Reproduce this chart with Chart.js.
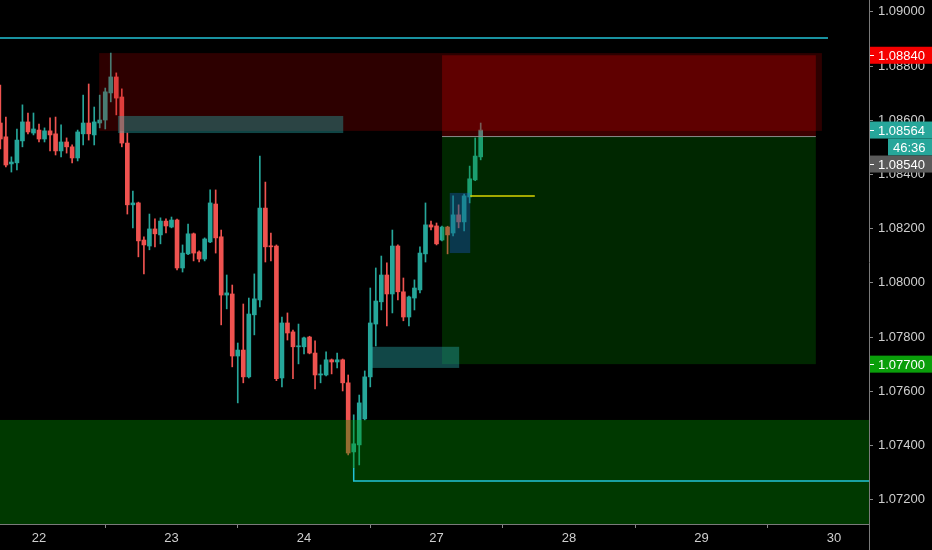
<!DOCTYPE html>
<html>
<head>
<meta charset="utf-8">
<title>EURUSD 1H</title>
<script src="https://cdn.jsdelivr.net/npm/chart.js@4.4.1/dist/chart.umd.min.js"></script>
<style>
  html, body { margin: 0; padding: 0; background: #000; }
  #wrap { width: 932px; height: 550px; position: relative; }
</style>
</head>
<body>
<div id="wrap"><canvas id="chart"></canvas></div>
<script>
// hourly bars, the first one sits 7 hours before the "22" tick
const firstBar = -7;

const opens = [
  1.08590, 1.08539, 1.08439, 1.08443, 1.08524, 1.08594, 1.08553,
  1.08564, 1.08531, 1.08561, 1.08550, 1.08487, 1.08520, 1.08502, 1.08461, 1.08550, 1.08590,
  1.08546, 1.08590, 1.08601, 1.08701, 1.08760, 1.08686, 1.08516, 1.08288, 1.08295, 1.08158,
  1.08136, 1.08199, 1.08177, 1.08228, 1.08206, 1.08232, 1.08055, 1.08107, 1.08181, 1.08114,
  1.08088, 1.08151, 1.08291, 1.08170, 1.07955, 1.07959, 1.07730, 1.07752, 1.07653, 1.07882,
  1.07937, 1.08276, 1.08136, 1.08136, 1.07649, 1.07852, 1.07819, 1.07764, 1.07764, 1.07800,
  1.07741, 1.07660, 1.07660, 1.07716, 1.07708, 1.07716, 1.07631, 1.07376, 1.07402, 1.07498,
  1.07653, 1.07848, 1.07930, 1.08029, 1.07959, 1.08136, 1.07967, 1.07874, 1.07944, 1.07974,
  1.08107, 1.08214, 1.08210, 1.08158, 1.08206, 1.08184, 1.08251, 1.08225, 1.08317, 1.08380,
  1.08465
];
const highs = [
  1.08730, 1.08612, 1.08465, 1.08568, 1.08657, 1.08627, 1.08627,
  1.08586, 1.08572, 1.08609, 1.08612, 1.08583, 1.08535, 1.08509, 1.08564, 1.08693, 1.08734,
  1.08649, 1.08693, 1.08719, 1.08848, 1.08775, 1.08716, 1.08553, 1.08339, 1.08298, 1.08170,
  1.08254, 1.08236, 1.08240, 1.08236, 1.08243, 1.08235, 1.08140, 1.08217, 1.08184, 1.08118,
  1.08166, 1.08343, 1.08343, 1.08195, 1.08029, 1.07992, 1.07778, 1.07922, 1.07944, 1.08033,
  1.08468, 1.08372, 1.08184, 1.08140, 1.07874, 1.07889, 1.07826, 1.07848, 1.07800, 1.07803,
  1.07786, 1.07697, 1.07745, 1.07719, 1.07741, 1.07719, 1.07660, 1.07513, 1.07586, 1.07675,
  1.07981, 1.08055, 1.08099, 1.08074, 1.08195, 1.08140, 1.08018, 1.07951, 1.08011, 1.08133,
  1.08295, 1.08228, 1.08221, 1.08210, 1.08209, 1.08321, 1.08288, 1.08328, 1.08431, 1.08535,
  1.08590
];
const lows = [
  1.08494, 1.08428, 1.08409, 1.08417, 1.08502, 1.08550, 1.08546,
  1.08520, 1.08520, 1.08487, 1.08472, 1.08465, 1.08479, 1.08443, 1.08450, 1.08509, 1.08527,
  1.08509, 1.08572, 1.08568, 1.08668, 1.08620, 1.08502, 1.08254, 1.08203, 1.08096, 1.08033,
  1.08122, 1.08133, 1.08144, 1.08184, 1.08203, 1.08048, 1.08040, 1.08104, 1.08081, 1.08077,
  1.08081, 1.08148, 1.08110, 1.07845, 1.07904, 1.07690, 1.07557, 1.07631, 1.07649, 1.07808,
  1.07911, 1.08077, 1.08081, 1.07639, 1.07616, 1.07789, 1.07646, 1.07701, 1.07738, 1.07738,
  1.07609, 1.07631, 1.07657, 1.07664, 1.07686, 1.07601, 1.07365, 1.07317, 1.07328, 1.07494,
  1.07616, 1.07767, 1.07900, 1.07841, 1.07889, 1.07937, 1.07860, 1.07841, 1.07900, 1.07963,
  1.08077, 1.08195, 1.08140, 1.08155, 1.08107, 1.08173, 1.08203, 1.08192, 1.08295, 1.08377,
  1.08454
];
const closes = [
  1.08531, 1.08435, 1.08446, 1.08527, 1.08594, 1.08557, 1.08568,
  1.08531, 1.08561, 1.08546, 1.08487, 1.08520, 1.08502, 1.08461, 1.08557, 1.08590, 1.08550,
  1.08594, 1.08601, 1.08705, 1.08760, 1.08682, 1.08516, 1.08288, 1.08295, 1.08155, 1.08140,
  1.08199, 1.08181, 1.08228, 1.08210, 1.08232, 1.08055, 1.08110, 1.08181, 1.08110, 1.08088,
  1.08162, 1.08295, 1.08166, 1.07955, 1.07963, 1.07730, 1.07752, 1.07653, 1.07885, 1.07941,
  1.08276, 1.08133, 1.08133, 1.07646, 1.07852, 1.07815, 1.07764, 1.07767, 1.07797, 1.07741,
  1.07660, 1.07664, 1.07716, 1.07708, 1.07716, 1.07631, 1.07372, 1.07406, 1.07557, 1.07653,
  1.07852, 1.07933, 1.08029, 1.07959, 1.08136, 1.07967, 1.07874, 1.07948, 1.07981, 1.08110,
  1.08214, 1.08206, 1.08144, 1.08206, 1.08177, 1.08251, 1.08225, 1.08321, 1.08384, 1.08468,
  1.08564
];

const dayTicks = [0, 24, 48, 72, 96, 120, 144];
const dayLabels = ['22', '23', '24', '27', '28', '29', '30'];
const priceTicks = [1.072, 1.074, 1.076, 1.078, 1.080, 1.082, 1.084, 1.086, 1.088, 1.090];

// drawings, in bar index / price units
const boxes = [
  { from: 10.9, to: 141.8, top: 1.08848, bottom: 1.08561, color: 'rgba(180,0,0,0.25)' },
  { from: 14.3, to: 55.1, top: 1.08616, bottom: 1.08553, color: 'rgba(40,170,170,0.4)' },
  { from: 73.0, to: 140.7, top: 1.08840, bottom: 1.08540, color: 'rgba(255,0,0,0.24)' },
  { from: 73.0, to: 140.7, top: 1.08540, bottom: 1.07700, color: 'rgba(0,140,0,0.28)' },
  { from: 60.3, to: 76.1, top: 1.07764, bottom: 1.07686, color: 'rgba(40,170,170,0.42)' },
  { from: 74.4, to: 78.1, top: 1.08332, bottom: 1.08110, color: 'rgba(30,90,220,0.35)' },
  { from: -8, to: 152, top: 1.07494, bottom: 1.0700, color: 'rgba(0,150,0,0.38)' }
];
const lines = [
  { pts: [[-8, 1.08904], [142.9, 1.08904]], color: '#22c3d6', width: 1.5 },
  { pts: [[73.0, 1.08540], [140.7, 1.08540]], color: '#8a8a8a', width: 1 },
  { pts: [[78.1, 1.08321], [89.8, 1.08321]], color: '#d8d400', width: 1.5 },
  { pts: [[57, 1.07317], [57, 1.07269], [152, 1.07269]], color: '#22c3d6', width: 1.5 }
];
const priceTags = [
  { value: 1.08840, text: '1.08840', bg: '#f50000' },
  { value: 1.08564, text: '1.08564', bg: '#26a69a', extra: '46:36' },
  { value: 1.08540, text: '1.08540', bg: '#5a5a5a' },
  { value: 1.07700, text: '1.07700', bg: '#0a9e0a' }
];

const FONT = 'Liberation Sans';
const bars = opens.map((o, i) => i + firstBar);
const colors = opens.map((o, i) => closes[i] >= o ? '#26a69a' : '#ef5350');

const overlay = {
  id: 'overlay',
  afterDatasetsDraw(chart) {
    const { ctx, chartArea: a, scales: { x, y } } = chart;
    ctx.save();
    ctx.beginPath();
    ctx.rect(a.left, a.top, a.right - a.left, a.bottom - a.top);
    ctx.clip();
    boxes.forEach(b => {
      const x0 = x.getPixelForValue(b.from), x1 = x.getPixelForValue(b.to);
      const y0 = y.getPixelForValue(b.top), y1 = y.getPixelForValue(b.bottom);
      ctx.fillStyle = b.color;
      ctx.fillRect(x0, y0, x1 - x0, y1 - y0);
    });
    lines.forEach(l => {
      ctx.beginPath();
      l.pts.forEach((p, i) => {
        const px = x.getPixelForValue(p[0]), py = y.getPixelForValue(p[1]);
        if (i === 0) ctx.moveTo(px, py); else ctx.lineTo(px, py);
      });
      ctx.strokeStyle = l.color;
      ctx.lineWidth = l.width;
      ctx.stroke();
    });
    ctx.restore();
  },
  afterDraw(chart) {
    const { ctx, chartArea: a, scales: { y } } = chart;
    const h = 17;
    ctx.save();
    // axis border runs on down to the bottom edge
    ctx.strokeStyle = '#7a7a7a';
    ctx.lineWidth = 1;
    ctx.beginPath();
    ctx.moveTo(a.right + 0.5, a.bottom);
    ctx.lineTo(a.right + 0.5, chart.height);
    ctx.stroke();

    ctx.font = '13px "' + FONT + '"';
    ctx.textBaseline = 'middle';
    let prevBottom = -Infinity;
    const placed = priceTags.map(t => Object.assign({}, t, { cy: y.getPixelForValue(t.value) }))
      .sort((p, q) => p.cy - q.cy);
    placed.forEach(t => {
      const cy = Math.max(t.cy, prevBottom + h / 2);
      ctx.fillStyle = t.bg;
      ctx.fillRect(a.right + 1, cy - h / 2, chart.width - a.right, h);
      ctx.fillStyle = '#fff';
      ctx.fillRect(a.right + 1, Math.round(cy), 4, 1);
      ctx.fillText(t.text, a.right + 9, cy + 1);
      prevBottom = cy + h / 2;
      if (t.extra) {
        const cy2 = prevBottom + h / 2;
        ctx.fillStyle = t.bg;
        ctx.fillRect(a.right + 19, cy2 - h / 2, chart.width - a.right - 19, h);
        ctx.fillStyle = '#fff';
        ctx.fillText(t.extra, a.right + 24, cy2 + 1);
        prevBottom = cy2 + h / 2;
      }
    });
    ctx.restore();
  }
};

new Chart(document.getElementById('chart'), {
  type: 'bar',
  data: {
    datasets: [
      {
        data: bars.map((b, i) => ({ x: b, y: [lows[i], highs[i]] })),
        backgroundColor: colors,
        barThickness: 1,
        grouped: false
      },
      {
        data: bars.map((b, i) => ({ x: b, y: [opens[i], closes[i]] })),
        backgroundColor: colors,
        barThickness: 4,
        minBarLength: 1,
        grouped: false
      }
    ]
  },
  options: {
    responsive: true,
    maintainAspectRatio: false,
    animation: false,
    layout: { padding: 0 },
    plugins: { legend: { display: false }, tooltip: { enabled: false } },
    scales: {
      x: {
        type: 'linear',
        offset: false,
        min: -7.064,
        max: 150.33,
        afterFit(s) { s.height = 26; s.paddingLeft = 0; s.paddingRight = 0; },
        afterBuildTicks(s) { s.ticks = dayTicks.map(v => ({ value: v })); },
        ticks: {
          color: '#cfcfcf',
          font: { family: FONT, size: 13 },
          padding: 3,
          maxRotation: 0,
          autoSkip: false,
          callback: (v, i) => dayLabels[i]
        },
        grid: { drawOnChartArea: false, tickLength: 4, tickColor: '#888' },
        border: { display: true, color: '#7a7a7a' }
      },
      y: {
        position: 'right',
        min: 1.0711,
        max: 1.09044,
        afterFit(s) { s.width = 63; s.paddingTop = 0; s.paddingBottom = 0; },
        afterBuildTicks(s) { s.ticks = priceTicks.map(v => ({ value: v })); },
        ticks: {
          color: '#cfcfcf',
          font: { family: FONT, size: 13 },
          padding: 5,
          callback: v => v.toFixed(5)
        },
        grid: { drawOnChartArea: false, tickLength: 4, tickColor: '#888' },
        border: { display: true, color: '#7a7a7a' }
      }
    }
  },
  plugins: [overlay]
});
</script>
</body>
</html>
